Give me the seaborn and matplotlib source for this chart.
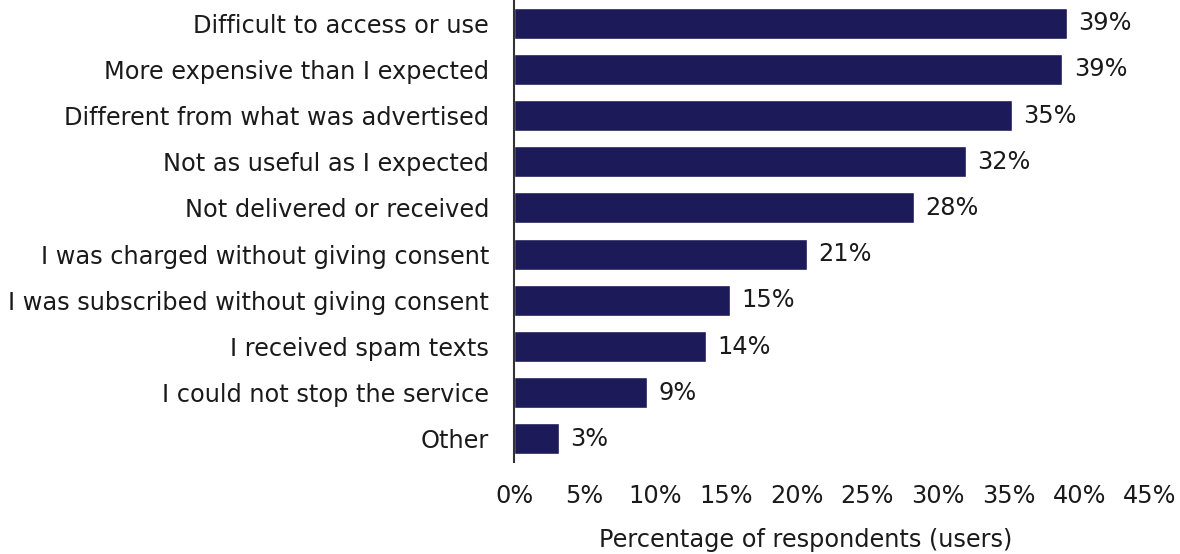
import matplotlib
matplotlib.use("Agg")
import matplotlib.pyplot as plt
import seaborn as sns
import pandas as pd

reasons = [
    "Difficult to access or use",
    "More expensive than I expected",
    "Different from what was advertised",
    "Not as useful as I expected",
    "Not delivered or received",
    "I was charged without giving consent",
    "I was subscribed without giving consent",
    "I received spam texts",
    "I could not stop the service",
    "Other",
]
shares = [39.1, 38.8, 35.2, 32.0, 28.3, 20.7, 15.3, 13.6, 9.4, 3.2]
x_ticks = [0, 5, 10, 15, 20, 25, 30, 35, 40, 45]
x_label = "Percentage of respondents (users)"

sns.set_theme(style="white")
plt.rcParams["font.family"] = ["DejaVu Sans"]

df = pd.DataFrame({"reason": reasons, "share": shares})

fig = plt.figure(figsize=(11.8, 5.54), dpi=100)
ax = fig.add_axes([0.4356, 0.166, 0.539, 0.834])

bar_color = "#1c1a59"
text_color = "#1a1a1a"
fs = 17.3

sns.barplot(data=df, x="share", y="reason", orient="h", color=bar_color,
            saturation=1, width=0.67, ax=ax)

for i, v in enumerate(shares):
    ax.text(v + 0.8, i, f"{v:.0f}%", va="center", ha="left",
            fontsize=fs, color=text_color)

ax.set_xlim(0, 45)
ax.set_ylim(9.5, -0.5)
ax.set_xticks(x_ticks)
ax.set_xticklabels([f"{t}%" for t in x_ticks], fontsize=fs, color=text_color)
ax.tick_params(axis="y", labelsize=fs, labelcolor=text_color, length=0, pad=18)
ax.tick_params(axis="x", length=0, pad=16)
ax.set_ylabel("")
ax.set_xlabel(x_label, fontsize=fs, color=text_color)
ax.xaxis.set_label_coords(0.459, -0.143)

for side in ["top", "right", "bottom"]:
    ax.spines[side].set_visible(False)
ax.spines["left"].set_color("#333333")
ax.spines["left"].set_linewidth(1.5)

fig.savefig("out.png", dpi=100, facecolor="white")
